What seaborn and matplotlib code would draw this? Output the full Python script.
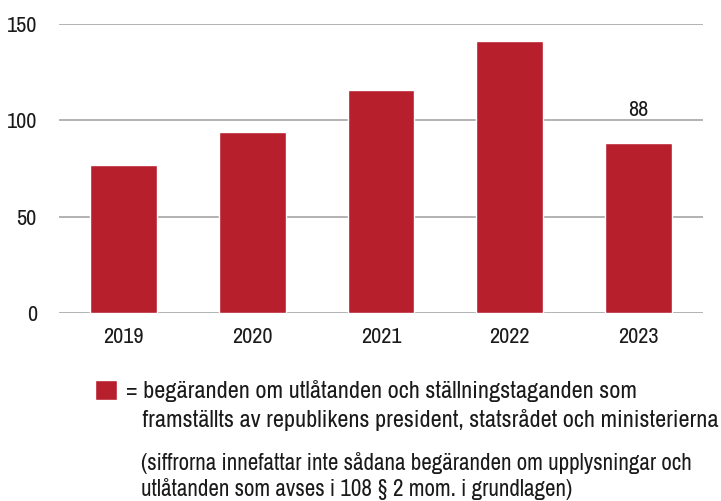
import matplotlib
matplotlib.use('Agg')
import matplotlib.pyplot as plt
import seaborn as sns

years = ['2019', '2020', '2021', '2022', '2023']
requests = [77, 94, 116, 141, 88]
value_labels = ['', '', '', '', '88']
y_ticks = [0, 50, 100, 150]

legend_lines = ['= begäranden om utlåtanden och ställningstaganden som',
                '   framställts av republikens president, statsrådet och ministerierna']
note_text = ('(siffrorna innefattar inte sådana begäranden om upplysningar och\n'
             'utlåtanden som avses i 108 § 2 mom. i grundlagen)')

bar_color = '#B81F2D'
grid_color = '#A6A6A6'
text_color = '#1a1a1a'
fs = 16

sns.set_style('white')
plt.rcParams['font.family'] = ['Archivo Narrow', 'Roboto Condensed', 'Liberation Sans', 'DejaVu Sans']
plt.rcParams['font.size'] = fs

fig = plt.figure(figsize=(7.21, 5.01), dpi=100)
ax = fig.add_axes([59 / 721, 1 - 313 / 501, 644 / 721, 289 / 501])

sns.barplot(x=years, y=requests, color=bar_color, saturation=1,
            width=0.52, ax=ax, zorder=3)

ax.bar_label(ax.containers[0], labels=value_labels, padding=17,
             fontsize=fs, color=text_color)

ax.set_ylim(0, 150)
ax.set_xlim(-0.5, 4.5)
ax.set_yticks(y_ticks)
ax.yaxis.grid(True, color=grid_color, linewidth=1.2, zorder=0)
ax.set_axisbelow(True)
sns.despine(ax=ax, left=True, top=True, right=True, bottom=True)
ax.tick_params(axis='both', length=0, labelcolor=text_color, labelsize=fs)
ax.tick_params(axis='y', pad=16)
ax.tick_params(axis='x', pad=10)
ax.set(xlabel='', ylabel='')

# legend: red square + two text lines
leg_fs = 17.5
handle = ax.containers[0].patches[0]
blank = plt.Line2D([], [], linestyle='none')
leg = ax.legend([handle, blank], legend_lines, loc='upper left',
                bbox_to_anchor=(95 / 721, 1 - 380 / 501),
                bbox_transform=fig.transFigure, frameon=False,
                handlelength=0.9, handleheight=0.86, handletextpad=0.37,
                borderaxespad=0, borderpad=0, fontsize=leg_fs,
                labelspacing=0.26)
for t in leg.get_texts():
    t.set_color(text_color)

fig.text(141 / 721, 1 - 452 / 501, note_text, fontsize=16.6, color=text_color,
         va='top', ha='left', linespacing=1.25)

fig.savefig('out.png', dpi=100)
